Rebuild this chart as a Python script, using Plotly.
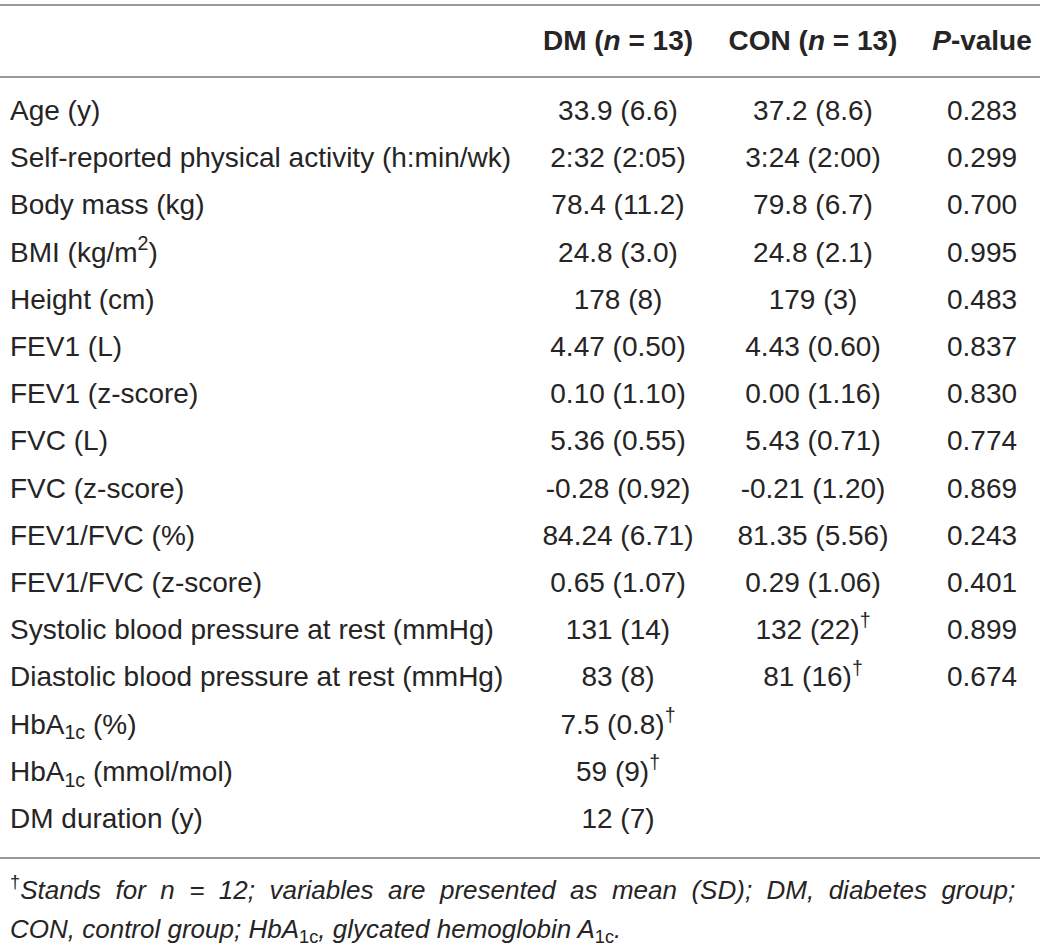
import plotly.graph_objects as go

# ---------------- data ----------------
variables = [
    "Age (y)",
    "Self-reported physical activity (h:min/wk)",
    "Body mass (kg)",
    "BMI (kg/m<sup>2</sup>)",
    "Height (cm)",
    "FEV1 (L)",
    "FEV1 (z-score)",
    "FVC (L)",
    "FVC (z-score)",
    "FEV1/FVC (%)",
    "FEV1/FVC (z-score)",
    "Systolic blood pressure at rest (mmHg)",
    "Diastolic blood pressure at rest (mmHg)",
    "HbA<sub>1c</sub> (%)",
    "HbA<sub>1c</sub> (mmol/mol)",
    "DM duration (y)",
]
dm_values = [
    "33.9 (6.6)", "2:32 (2:05)", "78.4 (11.2)", "24.8 (3.0)", "178 (8)",
    "4.47 (0.50)", "0.10 (1.10)", "5.36 (0.55)", "-0.28 (0.92)", "84.24 (6.71)",
    "0.65 (1.07)", "131 (14)", "83 (8)", "7.5 (0.8)", "59 (9)", "12 (7)",
]
dm_n12 = [False] * 13 + [True, True, False]
con_values = [
    "37.2 (8.6)", "3:24 (2:00)", "79.8 (6.7)", "24.8 (2.1)", "179 (3)",
    "4.43 (0.60)", "0.00 (1.16)", "5.43 (0.71)", "-0.21 (1.20)", "81.35 (5.56)",
    "0.29 (1.06)", "132 (22)", "81 (16)", "", "", "",
]
con_n12 = [False] * 11 + [True, True, False, False, False]
p_values = [
    "0.283", "0.299", "0.700", "0.995", "0.483", "0.837", "0.830", "0.774",
    "0.869", "0.243", "0.401", "0.899", "0.674", "", "", "",
]
headers = ["<b>DM (<i>n</i> = 13)</b>", "<b>CON (<i>n</i> = 13)</b>", "<b><i>P</i>-value</b>"]
footnote_line1_words = ["Stands", "for", "n", "=", "12;", "variables", "are", "presented",
                        "as", "mean", "(SD);", "DM,", "diabetes", "group;"]
footnote_line2 = "<i>CON, control group; HbA</i><sub>1c</sub><i>, glycated hemoglobin A</i><sub>1c</sub><i>.</i>"

# ---------------- layout constants ----------------
W, H = 1040, 949
FONT = "Liberation Sans, Arial, sans-serif"
TXT = "#262424"
FS = 28
FS_NOTE = 26
ROW0, ROWH = 113, 47.2
HEAD_Y = 43
X_LABEL = 10
X_DM, X_CON, X_P = 618, 813, 982
RULE = "#9a9a9a"
RULES_Y = [5, 77, 858]
NOTE_Y = [892, 931]
GAP = " \u00a0"  # widened word gap to imitate the justified first footnote line

row_y = [ROW0 + i * ROWH for i in range(len(variables))]
dagger = "<sup>†</sup>"
dm_txt = [v + (dagger if f else "") for v, f in zip(dm_values, dm_n12)]
con_txt = [v + (dagger if f else "") for v, f in zip(con_values, con_n12)]
note1 = dagger + "<i>" + GAP.join(footnote_line1_words) + "</i>"

fig = go.Figure()
fig.add_trace(go.Scatter(x=[X_LABEL] * len(variables), y=row_y, text=variables,
                         mode="text", textposition="middle right",
                         textfont=dict(family=FONT, size=FS, color=TXT), hoverinfo="skip"))
for xc, col in [(X_DM, dm_txt), (X_CON, con_txt), (X_P, p_values)]:
    fig.add_trace(go.Scatter(x=[xc] * len(col), y=row_y, text=col,
                             mode="text", textposition="middle center",
                             textfont=dict(family=FONT, size=FS, color=TXT), hoverinfo="skip"))
fig.add_trace(go.Scatter(x=[X_DM, X_CON, X_P], y=[HEAD_Y] * 3, text=headers,
                         mode="text", textposition="middle center",
                         textfont=dict(family=FONT, size=FS, color=TXT), hoverinfo="skip"))
fig.add_trace(go.Scatter(x=[X_LABEL] * 2, y=NOTE_Y, text=[note1, footnote_line2],
                         mode="text", textposition="middle right",
                         textfont=dict(family=FONT, size=FS_NOTE, color=TXT), hoverinfo="skip"))

for yy in RULES_Y:
    fig.add_shape(type="line", x0=0, x1=W, y0=yy, y1=yy, xref="x", yref="y",
                  line=dict(color=RULE, width=2))

fig.update_layout(
    width=W, height=H, margin=dict(l=0, r=0, t=0, b=0),
    paper_bgcolor="white", plot_bgcolor="white", showlegend=False,
    xaxis=dict(range=[0, W], visible=False, fixedrange=True),
    yaxis=dict(range=[H, 0], visible=False, fixedrange=True),
)
fig.write_html("out.html", config={"displayModeBar": False},
               post_script="document.body.style.margin='0';")
